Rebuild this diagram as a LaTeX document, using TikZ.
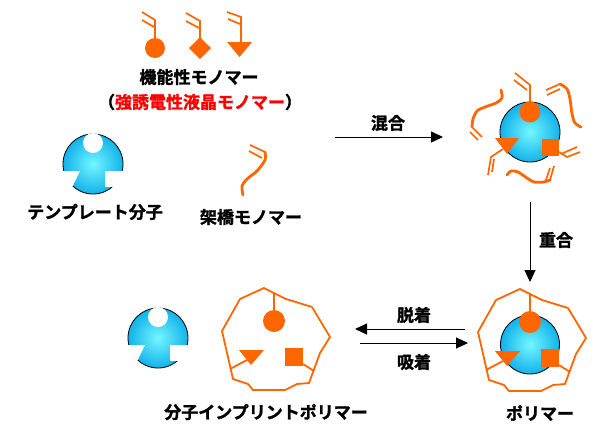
\documentclass[tikz,border=0pt]{standalone}
\usepackage{fontspec}
\setmainfont{Noto Sans CJK JP}[BoldFont={Noto Sans CJK JP Bold},BoldFeatures={FakeBold=1.6}]
\usetikzlibrary{arrows.meta}
\definecolor{mono}{HTML}{FF6600}
\definecolor{ballin}{HTML}{74F6FF}
\definecolor{ballout}{HTML}{12B2EA}

\begin{document}
\begin{tikzpicture}[x=1pt,y=-1pt,
  lbl/.style={inner sep=0.75pt,font=\fontsize{17}{20}\selectfont\bfseries},
  arr/.style={line width=1pt,-{Triangle[length=12pt,width=11pt]}},
  bond/.style={draw=mono,line width=1.7pt},
  chain/.style={draw=mono,line width=2.8pt,line cap=round,line join=round},
  ball/.style={draw=black,line width=0.8pt,inner color=ballin,outer color=ballout},
  shell/.style={draw=mono,line width=1.8pt,line join=round}]
\useasboundingbox (0,0) rectangle (596,424);

% functional monomers
\draw[bond] (142,12) -- (155,20) -- (155,40);
\draw[bond] (142,20) -- (154,27);
\fill[mono] (155,48) circle (10);
\draw[bond] (186,13) -- (200,21) -- (200,38);
\draw[bond] (186,21) -- (199,28);
\fill[mono] (200,37) -- (211,48) -- (200,59) -- (189,48) -- cycle;
\draw[bond] (227,12) -- (241,17) -- (241,42);
\draw[bond] (228,19) -- (240,24);
\fill[mono] (227,42) -- (252,42) -- (239.5,57) -- cycle;
\node[lbl] (func) at (199,77) {機能性モノマー};
\node[lbl] (flc) at (200,102) {（\textcolor{red}{強誘電性液晶モノマー}）};

% template molecules
\foreach \cx/\cy in {93/164,158/338} {
  \begin{scope}[shift={(\cx,\cy)}]
    \path[ball] (0,0) circle (30);
    \fill[white] (0,-21) circle (10);
    \fill[white] (-36,7) -- (-13,7) -- (-20.4,22.4) -- (-36,22.4) -- cycle;
    \fill[white] (12,7) rectangle (36,23);
  \end{scope}
}
\node[lbl] (tmpl) at (95,212) {テンプレート分子};

% cross-linker
\draw[bond] (250,145) -- (265,152);
\draw[bond] (249,151) -- (262,158);
\draw[chain] plot[smooth] coordinates {(265,152) (265,160) (257,171) (247,179) (242,186) (243,195)};
\node[lbl] (xlink) at (251,217) {架橋モノマー};

% mixture
\path[ball] (530,132) circle (30);
\draw[bond] (515,73) -- (530,85) -- (530,103);
\draw[bond] (514,80) -- (527,90);
\fill[mono] (530,112) circle (10.5);
\fill[mono] (495,138) -- (519,138) -- (507,154) -- cycle;
\draw[bond] (503,149) -- (491,157) -- (488,175);
\draw[bond] (494,159) -- (492,172);
\fill[mono] (542,139) rectangle (559,156);
\draw[bond] (559,152) -- (567,157) -- (580,152);
\draw[bond] (561,154) -- (577,147);
\draw[chain] plot[smooth] coordinates {(501,90) (502,98) (496,103) (485,107) (477,111) (473,119) (472,127)};
\draw[bond] (472,127) -- (482,137);
\draw[bond] (470,132) -- (478,140);
\draw[chain] plot[smooth] coordinates {(560,84) (567,89) (570,99) (572,114) (575,123) (581,127)};
\draw[bond] (546,90) -- (560,84);
\draw[bond] (547,95) -- (560,89);
\draw[chain] plot[smooth] coordinates {(507,175) (511,171) (518,172) (527,178) (534,182) (544,182) (550,180)};
\draw[bond] (550,180) -- (554,166);
\draw[bond] (546,180) -- (550,168);

% polymer shells
\foreach \cx/\cy in {274/321,530/322} {
  \begin{scope}[shift={(\cx,\cy)}]
    \draw[shell] (-10,-33) -- (12,-22) -- (38,-14) -- (56,16) -- (46,32) -- (35,62)
      -- (23,63) -- (11,69) -- (-21,69) -- (-26,63) -- (-41,58) -- (-52,10) -- (-34,-22) -- cycle;
    \draw[shell] (0,-28) -- (0,-8);
    \draw[shell] (-44,48) -- (-27,39);
    \draw[shell] (29,43) -- (40,50);
  \end{scope}
}
\path[ball] (530,344.5) circle (29.5);
\foreach \cx/\cy in {274/321,530/322} {
  \begin{scope}[shift={(\cx,\cy)}]
    \fill[mono] (0,0) circle (11);
    \fill[mono] (-35,29) -- (-10,29) -- (-23,44) -- cycle;
    \fill[mono] (11,27) rectangle (29,45);
  \end{scope}
}
\node[lbl] (mip) at (266,412) {分子インプリントポリマー};
\node[lbl] (poly) at (540,413) {ポリマー};

% process arrows
\coordinate (mixA) at (335,137);
\coordinate (mixB) at (443,137);
\coordinate (polA) at (530,202);
\coordinate (polB) at (530,282);
\coordinate (desA) at (465,329);
\coordinate (desB) at (355,329);
\coordinate (adsA) at (360,343);
\coordinate (adsB) at (468,343);
\draw[arr] (mixA) -- (mixB);
\draw[arr] (polA) -- (polB);
\draw[arr] (desA) -- (desB);
\draw[arr] (adsA) -- (adsB);
\node[lbl] (mixing) at (388,123) {混合};
\node[lbl] (polym) at (556,240) {重合};
\node[lbl] (desorb) at (414,315) {脱着};
\node[lbl] (adsorb) at (414,362) {吸着};
\end{tikzpicture}
\end{document}
